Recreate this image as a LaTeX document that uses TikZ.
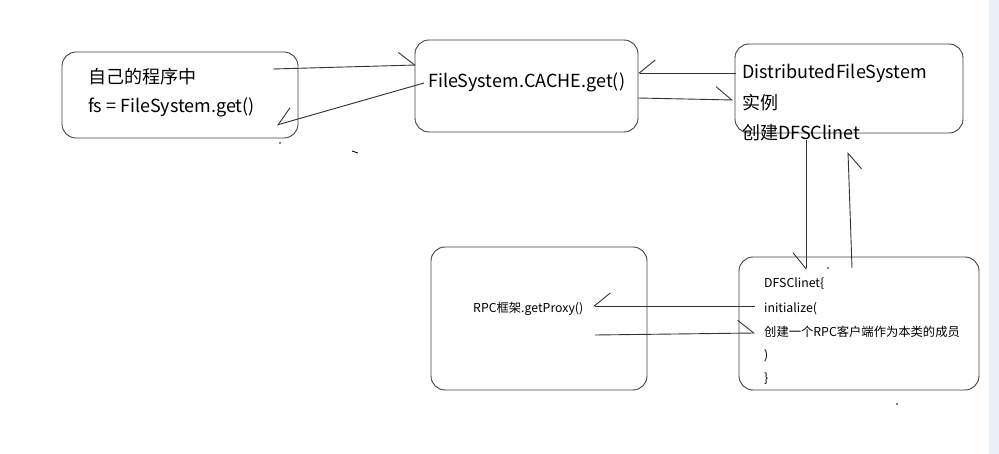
\documentclass[tikz,border=0pt]{standalone}
\usepackage{fontspec}
\setmainfont{Noto Sans CJK SC}
\usetikzlibrary{arrows.meta}
\definecolor{strip}{HTML}{EBF0F8}

\begin{document}
\begin{tikzpicture}[x=1pt,y=-1pt,
   box/.style={draw=black!75, line width=0.9pt, rounded corners=14pt, inner sep=0pt},
   big/.style={anchor=west, inner sep=0pt, font=\fontsize{18}{20}\selectfont},
   small/.style={anchor=west, inner sep=0pt, font=\fontsize{12.3}{14}\selectfont},
   wire/.style={draw=black!80, line width=0.9pt},
   tipl/.style={-{Straight Barb[harpoon,length=16pt,width=26pt]}},
   tipr/.style={-{Straight Barb[harpoon,swap,length=16pt,width=26pt]}}]

   \useasboundingbox (0,0) rectangle (999,454);
   \fill[strip] (989,0) rectangle (999,454);

   % the five boxes
   \node[box, minimum width=236pt, minimum height=86pt] (prog) at (180,95) {};
   \node[box, minimum width=223pt, minimum height=92pt] (cache) at (526.5,86) {};
   \node[box, minimum width=228pt, minimum height=89pt] (dfs) at (849,88.5) {};
   \node[box, minimum width=216pt, minimum height=143pt] (rpc) at (539,318.5) {};
   \node[box, minimum width=240pt, minimum height=133pt] (client) at (859,323.5) {};

   % texts
   \node[big] (progA) at (88,77) {自己的程序中};
   \node[big] (progB) at (88,107) {fs = FileSystem.get()};
   \node[big] (cacheA) at (428,82) {FileSystem.CACHE.get()};
   \node[big] (dfsA) at (742,73) {DistributedFileSystem};
   \node[big] (dfsB) at (742,103) {实例};
   \node[big] (dfsC) at (742,133) {创建DFSClinet};
   \node[small] (rpcA) at (473,309) {RPC框架.getProxy()};
   \node[small] (cliA) at (764,284) {DFSClinet\{};
   \node[small] (cliB) at (764,309) {initialize(};
   \node[small] (cliC) at (764,332) {创建一个RPC客户端作为本类的成员};
   \node[small] (cliD) at (764,356) {)};
   \node[small] (cliE) at (764,379) {\}};

   % ends of the hand drawn lines
   \coordinate (a1) at (273,69);  \coordinate (b1) at (416,65);
   \coordinate (b2) at (424,83);  \coordinate (a2) at (277,125);
   \coordinate (c1) at (736,73);  \coordinate (b3) at (638,73);
   \coordinate (b4) at (638,98);  \coordinate (c2) at (733,100);
   \coordinate (c3) at (806,140); \coordinate (e1) at (806,270);
   \coordinate (e2) at (852,268); \coordinate (c4) at (848,152);
   \coordinate (e3) at (755,306); \coordinate (d1) at (593,306);
   \coordinate (d2) at (595,335); \coordinate (e4) at (755,333);

   \draw[wire,tipl] (a1) -- (b1);
   \draw[wire,tipr] (b2) -- (a2);
   \draw[wire,tipr] (c1) -- (b3);
   \draw[wire,tipl] (b4) -- (c2);
   \draw[wire,tipr] (c3) -- (e1);
   \draw[wire,tipr] (e2) -- (c4);
   \draw[wire,tipr] (e3) -- (d1);
   \draw[wire,tipl] (d2) -- (e4);

   % stray specks
   \fill (280,143) circle (0.8);
   \draw[line width=0.8pt] (352,151) -- (358,153);
   \fill (828,268) circle (0.8);
   \fill (897,404) circle (0.8);

\end{tikzpicture}
\end{document}
